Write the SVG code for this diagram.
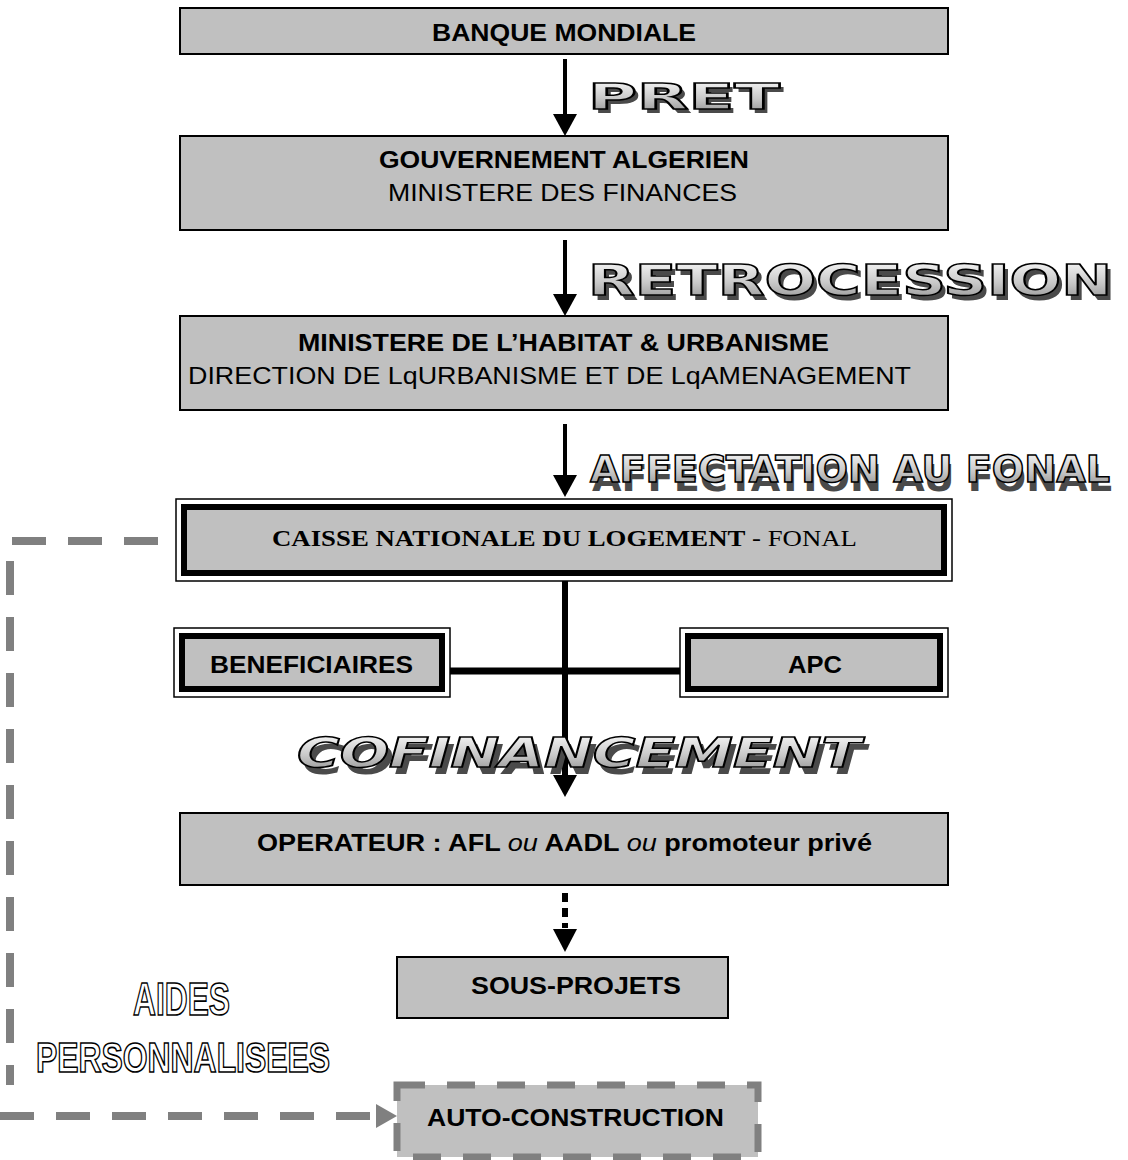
<svg xmlns="http://www.w3.org/2000/svg" width="1128" height="1160" viewBox="0 0 1128 1160">
<style>
.box{fill:#c0c0c0;stroke:#000;stroke-width:2}
.outer{fill:#fff;stroke:#000;stroke-width:1.5}
.thick{fill:#c0c0c0;stroke:#000;stroke-width:6}
.b{font-family:"Liberation Sans",Arial,sans-serif;font-weight:bold;font-size:24px;fill:#000}
.r{font-family:"Liberation Sans",Arial,sans-serif;font-size:24px;fill:#000}
.serif{font-family:"Liberation Serif","Times New Roman",serif;font-size:23px;fill:#000}
.wa{font-family:"DejaVu Sans",sans-serif;font-weight:bold;stroke:#000;stroke-width:1.5;fill:url(#chrome)}
.wash{font-family:"DejaVu Sans",sans-serif;font-weight:bold;fill:#4a4a4a}
.outl{font-family:"Liberation Sans",Arial,sans-serif;font-weight:bold;fill:#fff;stroke:#000;stroke-width:1.6}
.ln{stroke:#000;fill:none}
.gd{stroke:#808080;stroke-width:8;fill:none;stroke-dasharray:34 22}
</style>
<defs>
<linearGradient id="chrome" x1="0" y1="0" x2="0" y2="1">
<stop offset="0" stop-color="#ffffff"/>
<stop offset="0.55" stop-color="#c8c8c8"/>
<stop offset="1" stop-color="#8a8a8a"/>
</linearGradient>
</defs>

<g id="connectors">
<line class="ln" x1="565" y1="59" x2="565" y2="116" stroke-width="4"/>
<polygon points="553,114 577,114 565,136" fill="#000"/>
<line class="ln" x1="565" y1="240" x2="565" y2="296" stroke-width="4"/>
<polygon points="553,294 577,294 565,316" fill="#000"/>
<line class="ln" x1="565" y1="424" x2="565" y2="477" stroke-width="4"/>
<polygon points="553,475 577,475 565,497" fill="#000"/>
<line class="ln" x1="565" y1="581" x2="565" y2="778" stroke-width="6"/>
<polygon points="553,775 577,775 565,797" fill="#000"/>
<line class="ln" x1="450" y1="671" x2="680" y2="671" stroke-width="7"/>
<line class="ln" x1="565" y1="893" x2="565" y2="928" stroke-width="6" stroke-dasharray="9 6"/>
<polygon points="553,929 577,929 565,952" fill="#000"/>
<path class="gd" d="M158,541 H10 V1085"/>
<path class="gd" d="M0,1116 H378" stroke-dasharray="38 19"/>
<polygon points="376,1104 397,1116 376,1128" fill="#808080"/>
</g>

<g id="label-pret">
<text class="wash" x="592" y="113" font-size="36" textLength="192" lengthAdjust="spacingAndGlyphs">PRET</text>
<text class="wa" x="588" y="109" font-size="36" textLength="192" lengthAdjust="spacingAndGlyphs">PRET</text>
</g>
<g id="label-retrocession">
<text class="wash" x="592" y="300" font-size="42" textLength="524" lengthAdjust="spacingAndGlyphs">RETROCESSION</text>
<text class="wa" x="588" y="295" font-size="42" textLength="524" lengthAdjust="spacingAndGlyphs">RETROCESSION</text>
</g>
<g id="label-affectation">
<text class="wash" x="592" y="491" font-size="38" textLength="520" lengthAdjust="spacingAndGlyphs">AFFECTATION AU FONAL</text>
<text class="wa" x="590" y="482" font-size="38" textLength="520" lengthAdjust="spacingAndGlyphs">AFFECTATION AU FONAL</text>
</g>
<g id="label-cofinancement">
<text class="wash" x="302" y="774" font-size="40" font-style="italic" textLength="564" lengthAdjust="spacingAndGlyphs">COFINANCEMENT</text>
<text class="wa" x="297" y="767" font-size="40" font-style="italic" textLength="564" lengthAdjust="spacingAndGlyphs">COFINANCEMENT</text>
</g>
<g id="label-aides">
<text class="outl" x="133" y="1015" font-size="46" textLength="97" lengthAdjust="spacingAndGlyphs">AIDES</text>
<text class="outl" x="36" y="1072" font-size="42" textLength="294" lengthAdjust="spacingAndGlyphs">PERSONNALISEES</text>
</g>

<g id="banque-mondiale">
<rect class="box" x="180" y="8" width="768" height="46"/>
<text class="b" x="432" y="41" textLength="264" lengthAdjust="spacingAndGlyphs">BANQUE MONDIALE</text>
</g>
<g id="gouvernement">
<rect class="box" x="180" y="136" width="768" height="94"/>
<text class="b" x="379" y="168" textLength="370" lengthAdjust="spacingAndGlyphs">GOUVERNEMENT ALGERIEN</text>
<text class="r" x="388" y="201" textLength="349" lengthAdjust="spacingAndGlyphs">MINISTERE DES FINANCES</text>
</g>
<g id="ministere-habitat">
<rect class="box" x="180" y="316" width="768" height="94"/>
<text class="b" x="298" y="351" textLength="531" lengthAdjust="spacingAndGlyphs">MINISTERE DE L’HABITAT &amp; URBANISME</text>
<text class="r" x="188" y="384" textLength="723" lengthAdjust="spacingAndGlyphs">DIRECTION DE LqURBANISME ET DE LqAMENAGEMENT</text>
</g>
<g id="fonal">
<rect class="outer" x="176" y="499" width="776" height="82"/>
<rect class="thick" x="184" y="507" width="760" height="66"/>
<text class="serif" x="272" y="546" textLength="585" lengthAdjust="spacingAndGlyphs"><tspan font-weight="bold">CAISSE NATIONALE DU LOGEMENT</tspan> - FONAL</text>
</g>
<g id="beneficiaires">
<rect class="outer" x="174" y="628" width="276" height="69"/>
<rect class="thick" x="182" y="636" width="260" height="53"/>
<text class="b" x="210" y="673" textLength="203" lengthAdjust="spacingAndGlyphs">BENEFICIAIRES</text>
</g>
<g id="apc">
<rect class="outer" x="680" y="628" width="268" height="69"/>
<rect class="thick" x="688" y="636" width="252" height="53"/>
<text class="b" x="788" y="673" textLength="54" lengthAdjust="spacingAndGlyphs">APC</text>
</g>
<g id="operateur">
<rect class="box" x="180" y="813" width="768" height="72"/>
<text class="b" x="257" y="851" textLength="615" lengthAdjust="spacingAndGlyphs">OPERATEUR : AFL <tspan font-style="italic" font-weight="normal">ou</tspan> AADL <tspan font-style="italic" font-weight="normal">ou</tspan> promoteur privé</text>
</g>
<g id="sous-projets">
<rect class="box" x="397" y="957" width="331" height="61"/>
<text class="b" x="471" y="994" textLength="210" lengthAdjust="spacingAndGlyphs">SOUS-PROJETS</text>
</g>
<g id="auto-construction">
<rect x="397" y="1085" width="361" height="72" fill="#c0c0c0" stroke="#808080" stroke-width="7" stroke-dasharray="28 22"/>
<text class="b" x="427" y="1126" textLength="297" lengthAdjust="spacingAndGlyphs">AUTO-CONSTRUCTION</text>
</g>
</svg>
